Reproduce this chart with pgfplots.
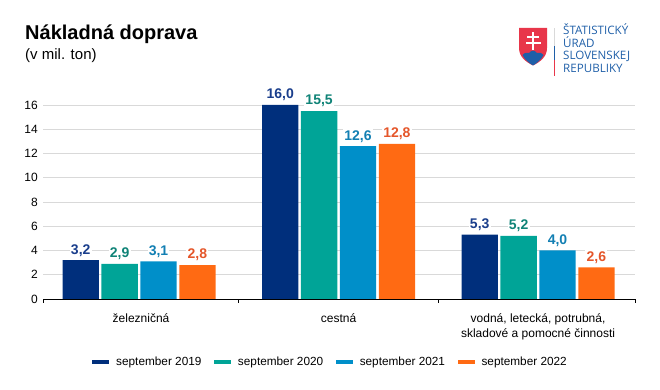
\documentclass[border=0pt]{standalone}
\usepackage{pgfplots}
\pgfplotsset{compat=1.18}
\usepackage{fontspec}
\setmainfont{Liberation Sans}
\newfontfamily\logofont{Open Sans}
\definecolor{cA}{HTML}{002F7C}
\definecolor{cB}{HTML}{00A497}
\definecolor{cC}{HTML}{008FC9}
\definecolor{cD}{HTML}{FF6A13}
\definecolor{lA}{HTML}{1A3E8C}
\definecolor{lB}{HTML}{0F8377}
\definecolor{lC}{HTML}{127FB3}
\definecolor{lD}{HTML}{E5562A}
\definecolor{gridc}{HTML}{D9D9D9}
\definecolor{logob}{HTML}{1F5FA8}
\definecolor{logor}{HTML}{E8364A}
\begin{document}
\begin{tikzpicture}
\begin{scope}[x=1pt,y=1pt]
\path[use as bounding box] (0,0) rectangle (660,390);
\node[anchor=base west,font=\bfseries\fontsize{20}{22}\selectfont,inner sep=0pt] at (25,350) {Nákladná doprava};
\node[anchor=base west,font=\fontsize{15}{17}\selectfont,inner sep=0pt] at (25,330) {(v mil. ton)};
% logo
\fill[logor] (519,362) -- (547,362) -- (547,342) .. controls (547,333) and (540,328) .. (533,324.5) .. controls (526,328) and (519,333) .. (519,342) -- cycle;
\fill[logob] (522.5,335) .. controls (525,338) and (527,337) .. (529,337) .. controls (531,340) and (535,340) .. (537,337) .. controls (540,337) and (542,338) .. (543.5,335) .. controls (541,330) and (537,327) .. (533,324.5) .. controls (529,327) and (525,330) .. (522.5,335) -- cycle;
\fill[white] (531.7,340) rectangle (534.3,358);
\fill[white] (527,351.5) rectangle (539,354);
\fill[white] (525.5,345.5) rectangle (540.5,348);
\fill[gridc] (554,362) rectangle (555,344);
\fill[logob] (554,344) rectangle (555,330);
\fill[logor] (554,330) rectangle (555,314);
\node[anchor=base west,inner sep=0pt,text=logob,font=\logofont\fontsize{11.6}{13}\selectfont] at (563,355) {ŠTATISTICKÝ};
\node[anchor=base west,inner sep=0pt,text=logob,font=\logofont\fontsize{11.6}{13}\selectfont] at (563,342.5) {ÚRAD};
\node[anchor=base west,inner sep=0pt,text=logob,font=\logofont\fontsize{11.6}{13}\selectfont] at (563,330) {SLOVENSKEJ};
\node[anchor=base west,inner sep=0pt,text=logob,font=\logofont\fontsize{11.6}{13}\selectfont] at (563,317.5) {REPUBLIKY};
\end{scope}
\begin{axis}[
  at={(43.3pt,91pt)},anchor=south west,
  scale only axis,width=591.7pt,height=194pt,
  xmin=-0.48,xmax=2.486,ymin=0,ymax=16,
  ybar=2.6pt,bar width=36.3pt,
  axis x line*=bottom,axis y line*=left,
  y axis line style={draw=none},
  x axis line style={black,line width=0.9pt,-},
  ytick={0,2,...,16},
  ymajorgrids,grid style={gridc,line width=0.7pt},
  major y tick style={draw=none},
  xtick={0,1,2},
  tick align=outside,
  major tick length=0pt,
  major x tick style={black,line width=0.8pt},
  extra x ticks={-0.48,0.5,1.5,2.486},
  extra x tick labels={},
  extra x tick style={major tick length=4pt,tick align=outside,tick pos=bottom,grid=none},
  xticklabels={\hspace*{4pt}železničná,cestná,{vodná, letecká, potrubná,\\skladové a pomocné činnosti}},
  x tick label style={align=center,font=\fontsize{12}{14.5}\selectfont,yshift=-12.5pt,inner sep=2pt,anchor=north},
  y tick label style={font=\fontsize{12}{14}\selectfont,xshift=-2pt},
  yticklabel={\pgfmathprintnumber[fixed,precision=0,assume math mode=true]{\tick}},
  nodes near coords,
  /pgf/number format/.cd,fixed,fixed zerofill,precision=1,use comma,1000 sep={},assume math mode=true,/tikz/.cd,
  every node near coord/.append style={font=\bfseries\fontsize{14}{16}\selectfont,fill=white,inner sep=1.2pt,yshift=2.5pt},
  legend style={at={(-43.3pt,-63pt)},anchor=west,legend columns=4,draw=none,fill=none,font=\fontsize{11.8}{14}\selectfont,
    /tikz/every even column/.append style={column sep=10.5pt},/tikz/every odd column/.append style={column sep=5pt},inner sep=0pt,xshift=92pt},
  legend image code/.code={\path[#1] (0pt,-2.2pt) rectangle (17pt,2.2pt);},
  clip=false,
]
\addplot[ybar,fill=cA,draw=none,every node near coord/.append style={text=lA}] coordinates {(0,3.2)(1,16.0)(2,5.3)};
\addplot[ybar,fill=cB,draw=none,every node near coord/.append style={text=lB}] coordinates {(0,2.9)(1,15.5)(2,5.2)};
\addplot[ybar,fill=cC,draw=none,every node near coord/.append style={text=lC}] coordinates {(0,3.1)(1,12.6)(2,4.0)};
\addplot[ybar,fill=cD,draw=none,every node near coord/.append style={text=lD}] coordinates {(0,2.8)(1,12.8)(2,2.6)};
\legend{september 2019,september 2020,september 2021,september 2022}
\end{axis}
\end{tikzpicture}
\end{document}
